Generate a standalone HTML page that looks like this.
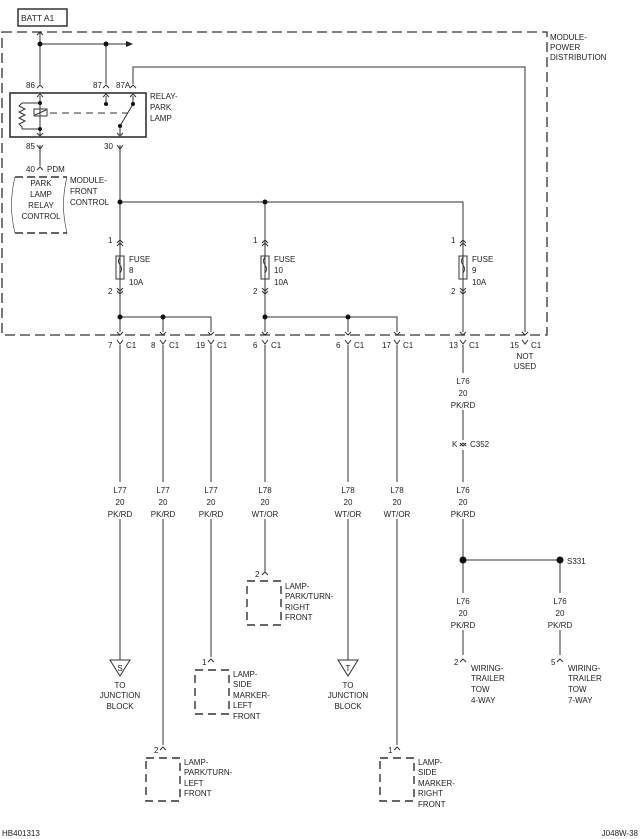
<!DOCTYPE html>
<html><head><style>
html,body{margin:0;padding:0;background:#fff;}
svg{display:block;}
text{font-family:"Liberation Sans",sans-serif;font-size:8px;fill:#222;}
.n{font-size:7px;}
</style></head><body>
<svg width="640" height="839" viewBox="0 0 640 839" xmlns="http://www.w3.org/2000/svg">
<g stroke="#333" stroke-width="1" fill="none">
<path d="M2 32 H547 V335 H2 Z" stroke-dasharray="10,5" stroke-width="1.3"/>
<rect x="18" y="9" width="49" height="17" stroke-width="1.5"/>
<path d="M40 32 V84 M40 44 H126 M106 44 V84"/>
<path d="M133 84 V67 H525 V332"/>
<rect x="10" y="93" width="136" height="44" stroke-width="1.6"/>
<path d="M40 96 V103 M40 103 H22 M40 129 H22 M40 129 V135 M40 103 V129"/>
<path d="M22 103 l-3 3 l6 3 l-6 3 l6 3 l-6 3 l6 3 l-6 3 l3 3 V129"/>
<rect x="34" y="109" width="13" height="7"/>
<path d="M35 115 L46 110"/>
<path d="M50 113 H128" stroke-dasharray="7,5"/>
<path d="M106 96 V103 M133 96 V104 L120 126 V135"/>
<path d="M40 145 V166 M120 145 V332"/>
<path d="M120 202 H463 V332 M265 202 V332"/>
<rect x="116" y="256" width="8" height="23"/>
<rect x="261" y="256" width="8" height="23"/>
<rect x="459" y="256" width="8" height="23"/>
<path d="M120 257 q-3 4 0 8 q3 4 0 8 M265 257 q-3 4 0 8 q3 4 0 8 M463 257 q-3 4 0 8 q3 4 0 8"/>
<path d="M120 317 H211 V332 M163 317 V332 M265 317 H397 V332 M348 317 V332"/>
<path d="M15 177 H67 M15 233 H67" stroke-dasharray="8,4" stroke-width="1.4"/>
<path d="M15 177 Q8 205 15 233 M67 177 Q60 205 67 233" stroke-width="0.6"/>
<path d="M120 345 V660 M163 345 V745 M211 345 V657 M265 345 V572 M348 345 V660 M397 345 V745 M463 345 V440 M463 450 V655 M463 560 H560 V655"/>
<path d="M247 581 H281 V625 H247 Z" stroke-dasharray="8,5" stroke-width="1.4"/>
<path d="M195 670 H229 V714 H195 Z" stroke-dasharray="8,5" stroke-width="1.4"/>
<path d="M146 758 H180 V801 H146 Z" stroke-dasharray="8,5" stroke-width="1.4"/>
<path d="M380 758 H414 V801 H380 Z" stroke-dasharray="8,5" stroke-width="1.4"/>
<path d="M110 660 H130 L120 676 Z M338 660 H358 L348 676 Z"/>
<path d="M117 340 l3 4 l3 -4 M160 340 l3 4 l3 -4 M208 340 l3 4 l3 -4 M262 340 l3 4 l3 -4 M345 340 l3 4 l3 -4 M394 340 l3 4 l3 -4 M460 340 l3 4 l3 -4 M522 340 l3 4 l3 -4"/>
<path d="M117 332 l3 3 l3 -3 M160 332 l3 3 l3 -3 M208 332 l3 3 l3 -3 M262 332 l3 3 l3 -3 M345 332 l3 3 l3 -3 M394 332 l3 3 l3 -3 M460 332 l3 3 l3 -3 M522 332 l3 3 l3 -3"/>
<path d="M37 88 l3 -3 l3 3 M103 88 l3 -3 l3 3 M130 88 l3 -3 l3 3 M37 97 l3 -3 l3 3 M103 97 l3 -3 l3 3 M130 97 l3 -3 l3 3"/>
<path d="M37 133 l3 3 l3 -3 M117 133 l3 3 l3 -3 M37 145 l3 4 l3 -4 M117 145 l3 4 l3 -4 M37 170 l3 -3 l3 3 M37 35 l3 -3 l3 3"/>
<path d="M117 243 l3 -3 l3 3 M117 246 l3 -3 l3 3 M262 243 l3 -3 l3 3 M262 246 l3 -3 l3 3 M460 243 l3 -3 l3 3 M460 246 l3 -3 l3 3"/>
<path d="M117 288 l3 3 l3 -3 M117 291 l3 3 l3 -3 M262 288 l3 3 l3 -3 M262 291 l3 3 l3 -3 M460 288 l3 3 l3 -3 M460 291 l3 3 l3 -3"/>
<path d="M460 446 l3 -3 l3 3 M460 443 l3 3 l3 -3"/>
<path d="M262 575 l3 -3 l3 3 M208 662 l3 -3 l3 3 M160 750 l3 -3 l3 3 M394 750 l3 -3 l3 3 M460 662 l3 -3 l3 3 M557 662 l3 -3 l3 3"/>
</g>
<g fill="#fff">
<rect x="100" y="482" width="40" height="37"/><rect x="143" y="482" width="40" height="37"/><rect x="191" y="482" width="40" height="37"/>
<rect x="245" y="482" width="40" height="37"/><rect x="328" y="482" width="40" height="37"/><rect x="377" y="482" width="40" height="37"/>
<rect x="443" y="482" width="40" height="37"/><rect x="443" y="373" width="40" height="37"/>
<rect x="443" y="593" width="40" height="37"/><rect x="540" y="593" width="40" height="37"/>
</g>
<path d="M126 41 L133 44 L126 47 Z" fill="#222"/>
<g fill="#111">
<circle cx="40" cy="44" r="2.5"/><circle cx="106" cy="44" r="2.5"/>
<circle cx="40" cy="103" r="2"/><circle cx="40" cy="129" r="2"/><circle cx="106" cy="104" r="2"/><circle cx="133" cy="104" r="2"/><circle cx="120" cy="126" r="2"/>
<circle cx="120" cy="202" r="2.5"/><circle cx="265" cy="202" r="2.5"/>
<circle cx="120" cy="317" r="2.5"/><circle cx="163" cy="317" r="2.5"/><circle cx="265" cy="317" r="2.5"/><circle cx="348" cy="317" r="2.5"/>
<circle cx="463" cy="560" r="3.5"/><circle cx="560" cy="560" r="3.5"/>
</g>
<text x="21" y="21" style="font-size:8.5px">BATT A1</text>
<text x="550" y="40">MODULE-</text><text x="550" y="50">POWER</text><text x="550" y="60">DISTRIBUTION</text>
<g class="n">
<text x="26" y="88">86</text><text x="93" y="88">87</text><text x="116" y="88">87A</text>
<text x="150" y="99">RELAY-</text><text x="150" y="110">PARK</text><text x="150" y="121">LAMP</text>
<text x="26" y="149">85</text><text x="104" y="149">30</text>
<text x="26" y="172">40</text><text x="47" y="172" style="font-size:8px">PDM</text>
<text x="41" y="186" text-anchor="middle">PARK</text><text x="41" y="197" text-anchor="middle">LAMP</text><text x="41" y="208" text-anchor="middle">RELAY</text><text x="41" y="219" text-anchor="middle">CONTROL</text>
<text x="70" y="183">MODULE-</text><text x="70" y="194">FRONT</text><text x="70" y="205">CONTROL</text>
<text x="108" y="243">1</text><text x="108" y="294">2</text><text x="253" y="243">1</text><text x="253" y="294">2</text><text x="451" y="243">1</text><text x="451" y="294">2</text>
<text x="129" y="262">FUSE</text><text x="129" y="273">8</text><text x="129" y="285">10A</text>
<text x="274" y="262">FUSE</text><text x="274" y="273">10</text><text x="274" y="285">10A</text>
<text x="472" y="262">FUSE</text><text x="472" y="273">9</text><text x="472" y="285">10A</text>
<text x="108" y="348">7</text><text x="126" y="348">C1</text>
<text x="151" y="348">8</text><text x="169" y="348">C1</text>
<text x="196" y="348">19</text><text x="217" y="348">C1</text>
<text x="253" y="348">6</text><text x="271" y="348">C1</text>
<text x="336" y="348">6</text><text x="354" y="348">C1</text>
<text x="382" y="348">17</text><text x="403" y="348">C1</text>
<text x="449" y="348">13</text><text x="469" y="348">C1</text>
<text x="510" y="348">15</text><text x="531" y="348">C1</text>
<text x="525" y="359" text-anchor="middle">NOT</text><text x="525" y="369" text-anchor="middle">USED</text>
<text x="463" y="384" text-anchor="middle">L76</text><text x="463" y="396" text-anchor="middle">20</text><text x="463" y="408" text-anchor="middle">PK/RD</text>
<text x="452" y="447">K</text><text x="470" y="447" style="font-size:8px">C352</text>
<g text-anchor="middle">
<text x="120" y="493">L77</text><text x="120" y="505">20</text><text x="120" y="517">PK/RD</text>
<text x="163" y="493">L77</text><text x="163" y="505">20</text><text x="163" y="517">PK/RD</text>
<text x="211" y="493">L77</text><text x="211" y="505">20</text><text x="211" y="517">PK/RD</text>
<text x="265" y="493">L78</text><text x="265" y="505">20</text><text x="265" y="517">WT/OR</text>
<text x="348" y="493">L78</text><text x="348" y="505">20</text><text x="348" y="517">WT/OR</text>
<text x="397" y="493">L78</text><text x="397" y="505">20</text><text x="397" y="517">WT/OR</text>
<text x="463" y="493">L76</text><text x="463" y="505">20</text><text x="463" y="517">PK/RD</text>
<text x="463" y="604">L76</text><text x="463" y="616">20</text><text x="463" y="628">PK/RD</text>
<text x="560" y="604">L76</text><text x="560" y="616">20</text><text x="560" y="628">PK/RD</text>
<text x="120" y="671">S</text><text x="348" y="671">T</text>
<text x="120" y="688">TO</text><text x="120" y="698">JUNCTION</text><text x="120" y="709">BLOCK</text>
<text x="348" y="688">TO</text><text x="348" y="698">JUNCTION</text><text x="348" y="709">BLOCK</text>
</g>
<text x="567" y="564" style="font-size:8px">S331</text>
<text x="255" y="577">2</text><text x="202" y="665">1</text><text x="154" y="753">2</text><text x="388" y="753">1</text>
<text x="454" y="665">2</text><text x="551" y="665">5</text>
<text x="285" y="589">LAMP-</text><text x="285" y="599">PARK/TURN-</text><text x="285" y="610">RIGHT</text><text x="285" y="620">FRONT</text>
<text x="233" y="677">LAMP-</text><text x="233" y="687">SIDE</text><text x="233" y="698">MARKER-</text><text x="233" y="708">LEFT</text><text x="233" y="719">FRONT</text>
<text x="184" y="765">LAMP-</text><text x="184" y="775">PARK/TURN-</text><text x="184" y="786">LEFT</text><text x="184" y="796">FRONT</text>
<text x="418" y="765">LAMP-</text><text x="418" y="775">SIDE</text><text x="418" y="786">MARKER-</text><text x="418" y="796">RIGHT</text><text x="418" y="807">FRONT</text>
<text x="471" y="671">WIRING-</text><text x="471" y="681">TRAILER</text><text x="471" y="692">TOW</text><text x="471" y="703">4-WAY</text>
<text x="568" y="671">WIRING-</text><text x="568" y="681">TRAILER</text><text x="568" y="692">TOW</text><text x="568" y="703">7-WAY</text>
<text x="2" y="836">HB401313</text><text x="638" y="836" text-anchor="end">J048W-38</text>
</g>
</svg>
</body></html>
